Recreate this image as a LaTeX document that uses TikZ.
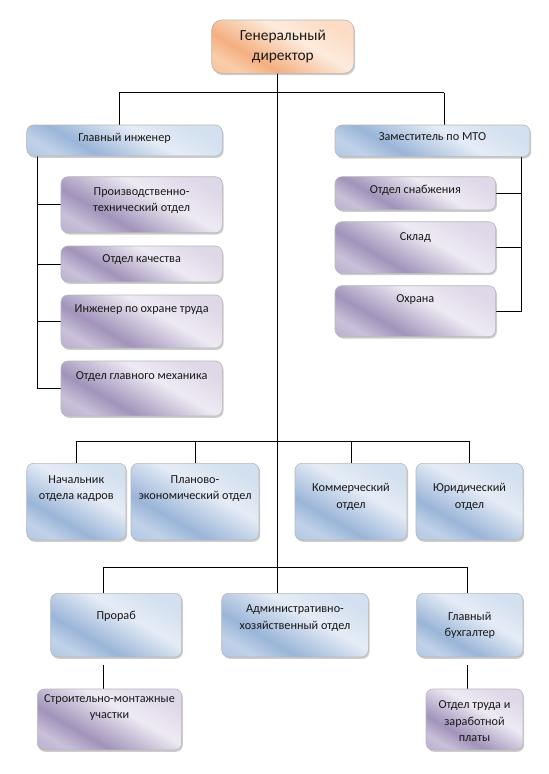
\documentclass[tikz,border=0pt]{standalone}
\usepackage{fontspec}
\setmainfont{Carlito}
\usetikzlibrary{shadows}
\definecolor{bdk}{HTML}{9AB5D8}
\definecolor{bmd}{HTML}{C0D2E9}
\definecolor{blt}{HTML}{E5ECF6}
\definecolor{blu}{HTML}{D3E0EF}
\definecolor{pdk}{HTML}{A193BA}
\definecolor{pmd}{HTML}{C9C0D9}
\definecolor{plt}{HTML}{EEEAF3}
\definecolor{plu}{HTML}{DFD8E8}
\definecolor{odk}{HTML}{F4AF80}
\definecolor{omd}{HTML}{F9CDAB}
\definecolor{olt}{HTML}{FDEBDD}
\definecolor{olu}{HTML}{FCDCC4}
\pgfdeclareverticalshading{bluesh}{100bp}{color(0bp)=(bdk); color(25bp)=(bmd); color(36bp)=(bdk); color(58bp)=(blt); color(75bp)=(blu); color(100bp)=(blu)}
\pgfdeclareverticalshading{purpsh}{100bp}{color(0bp)=(pdk); color(25bp)=(pmd); color(36bp)=(pdk); color(58bp)=(plt); color(75bp)=(plu); color(100bp)=(plu)}
\pgfdeclareverticalshading{orsh}{100bp}{color(0bp)=(odk); color(25bp)=(omd); color(36bp)=(odk); color(58bp)=(olt); color(75bp)=(olu); color(100bp)=(olu)}
\pgfdeclarelayer{bg}
\pgfsetlayers{bg,main}
\newcommand\orgbox[8]{%
  \node[#1, minimum width={(#5-#3)*1pt}, minimum height={(#6-#4)*1pt}] (#2) at ({(#3+#5)/2},{(#4+#6)/2}) {};
  \node[txt, anchor=north] (#2-t) at ({(#3+#5)/2},{#7-10}) {\rule{0pt}{10pt}#8};
}
\begin{document}
\begin{tikzpicture}[x=1pt,y=-1pt,
  box/.style={rectangle, rounded corners=7pt, draw=black!28, line width=0.6pt, inner sep=0pt, outer sep=0pt,
    drop shadow={shadow xshift=1.2pt, shadow yshift=-1.8pt, opacity=0.28, fill=black!70}},
  bbox/.style={box, shading=bluesh, shading angle=-30},
  pbox/.style={box, shading=purpsh, shading angle=-30},
  obox/.style={box, shading=orsh, shading angle=-30, rounded corners=10pt},
  txt/.style={inner sep=0pt, outer sep=0pt, align=center, font=\fontsize{12.2}{16.5}\selectfont, text=black!90},
  conn/.style={line width=1pt, black}]
\useasboundingbox (0,0) rectangle (549,774);

% top
\node[obox, minimum width=142.3pt, minimum height=53.3pt] (gen) at (282.85,46.65) {};
\node[txt, anchor=north, font=\fontsize{15.4}{20}\selectfont] (gen-t) at (282.85,27.7) {\rule{0pt}{13pt}Генеральный\\директор};

\orgbox{bbox}{ge}{26.7}{125}{222.3}{156}{141.7}{Главный инженер}
\orgbox{bbox}{zm}{335}{125}{530}{156.7}{140.7}{Заместитель по МТО}

\orgbox{pbox}{m1}{61}{176.7}{222.3}{232.7}{195}{Производственно-\\технический отдел}
\orgbox{pbox}{m2}{61}{246}{222.3}{282}{262}{Отдел качества}
\orgbox{pbox}{m3}{61}{295}{222.3}{348}{312}{Инженер по охране труда}
\orgbox{pbox}{m4}{61}{361}{222.3}{416}{379}{Отдел главного механика}

\orgbox{pbox}{s1}{335}{176.7}{495.7}{210}{193.3}{Отдел снабжения}
\orgbox{pbox}{s2}{335}{221.7}{495.7}{273.3}{240}{Склад}
\orgbox{pbox}{s3}{335}{285.7}{495.7}{336.7}{302.7}{Охрана}

\orgbox{bbox}{r1}{26.7}{463.3}{126}{540}{483.3}{Начальник\\отдела кадров}
\orgbox{bbox}{r2}{131}{463.3}{259}{540}{483.3}{Планово-\\экономический отдел}
\orgbox{bbox}{r3}{295}{463.3}{407}{540}{491.7}{Коммерческий\\отдел}
\orgbox{bbox}{r4}{416}{463.3}{523}{540}{491.7}{Юридический\\отдел}

\orgbox{bbox}{p1}{50.7}{593.3}{181.7}{657}{619.3}{Прораб}
\orgbox{bbox}{p2}{221.7}{593.3}{368.3}{657}{612.7}{Административно-\\хозяйственный отдел}
\orgbox{bbox}{p3}{416.7}{593.3}{523}{657}{620}{Главный\\бухгалтер}

\orgbox{pbox}{q1}{37.3}{689}{181.7}{750}{702}{Строительно-монтажные\\участки}
\orgbox{pbox}{q2}{426}{689}{523}{750}{708.5}{Отдел труда и\\заработной\\платы}

\coordinate (T) at (277.7,0);
\coordinate (cGE) at (119.3,92.7);
\coordinate (cZM) at (444.3,92.7);
\coordinate (L) at (37.3,0);
\coordinate (R) at (521.7,0);
\coordinate (A) at (0,441.7);
\coordinate (B) at (103.3,567);
\coordinate (B2) at (467.7,567);

\begin{pgfonlayer}{bg}
\fill[white] (0,0) rectangle (549,774);
\draw[conn] (gen.south -| T) -- (p2.north -| T);
\draw[conn] (cGE) -- (cZM);
\draw[conn] (cGE) -- (cGE |- ge.north);
\draw[conn] (cZM) -- (cZM |- zm.north);
\draw[conn] (ge.south -| L) |- (m4.west);
\draw[conn] (m1.west -| L) -- (m1.west);
\draw[conn] (m2.west -| L) -- (m2.west);
\draw[conn] (m3.west -| L) -- (m3.west);
\draw[conn] (zm.south -| R) |- (s3.east);
\draw[conn] (s1.east) -- (s1.east -| R);
\draw[conn] (s2.east) -- (s2.east -| R);
\draw[conn] (r1.north |- A) -- (r4.north |- A);
\draw[conn] (r1.north |- A) -- (r1.north);
\draw[conn] (r2.north |- A) -- (r2.north);
\draw[conn] (r3.north |- A) -- (r3.north);
\draw[conn] (r4.north |- A) -- (r4.north);
\draw[conn] (B) -- (B2);
\draw[conn] (B) -- (B |- p1.north);
\draw[conn] (B2) -- (B2 |- p3.north);
\draw[conn] ([yshift=-8pt]p1.south -| B) -- (q1.north -| B);
\draw[conn] ([yshift=-8pt]p3.south -| B2) -- (q2.north -| B2);
\end{pgfonlayer}
\end{tikzpicture}
\end{document}
